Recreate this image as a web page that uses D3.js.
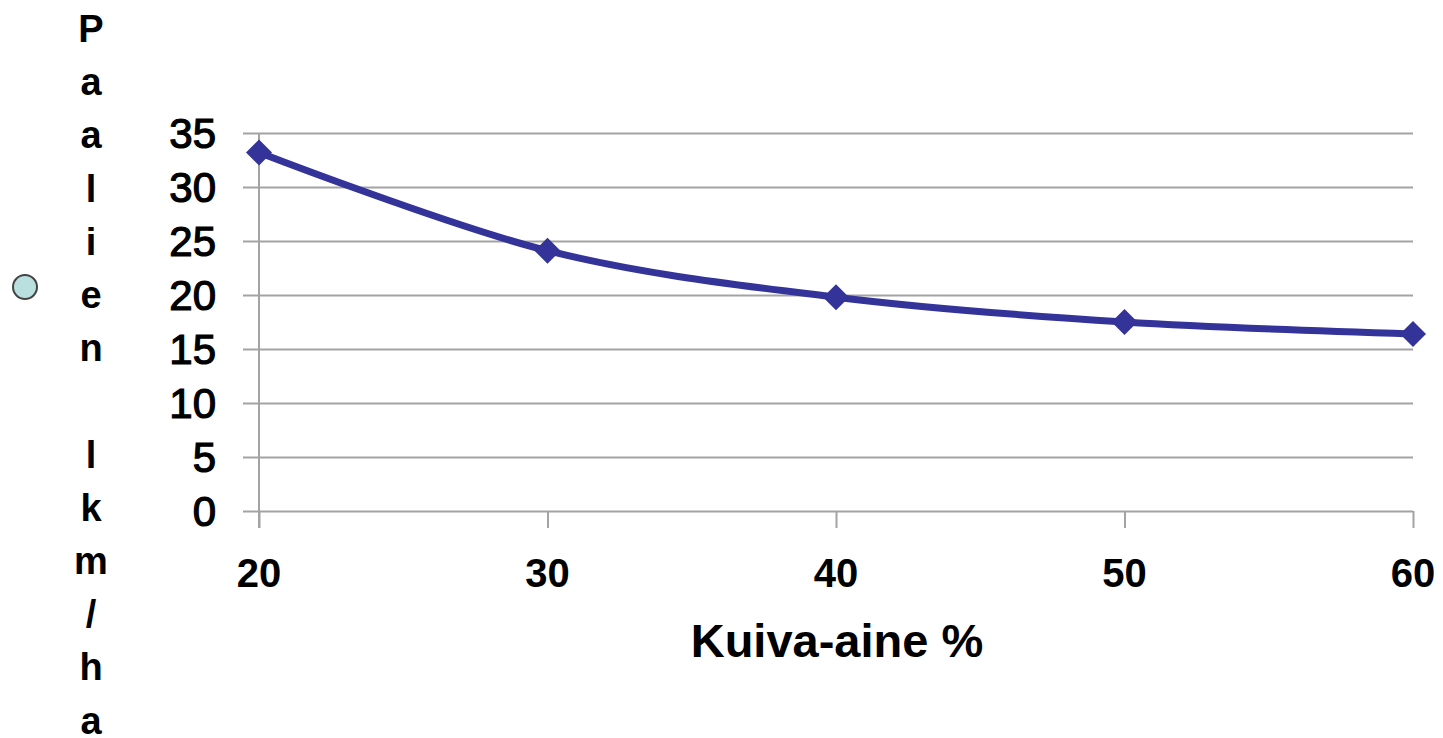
<!DOCTYPE html>
<html>
<head>
<meta charset="utf-8">
<script src="https://cdn.jsdelivr.net/npm/d3@7"></script>
<style>
  html, body { margin: 0; padding: 0; background: #fff; }
  svg { display: block; }
</style>
</head>
<body>
<svg id="chart" width="1443" height="738"></svg>
<script>
// Dry matter % on the x axis, bale count per hectare on the y axis
const categories = [20, 30, 40, 50, 60];
const bales = [33.2, 24.1, 19.8, 17.5, 16.4];
const yTicks = [0, 5, 10, 15, 20, 25, 30, 35];
const xTitle = "Kuiva-aine %";
const yTitle = "Paalien lkm/ha";

const svg = d3.select("#chart");
const plotLeft = 259, plotRight = 1413, plotTop = 133, plotBottom = 511;

const x = d3.scaleLinear().domain([20, 60]).range([plotLeft, plotRight]);
const y = d3.scaleLinear().domain([0, 35]).range([plotBottom, plotTop]);

const grid = "#a3a3a3";

// horizontal gridlines (with short ticks left of the axis)
const yAxis = d3.axisLeft(y).tickValues(yTicks).tickSize(-(plotRight - plotLeft) - 16).tickPadding(0).tickFormat("");
const gy = svg.append("g").attr("transform", `translate(${plotRight},0)`).call(yAxis);
gy.select(".domain").remove();
gy.selectAll(".tick line").attr("stroke", grid).attr("stroke-width", 2)
  .attr("x1", -(plotRight - plotLeft) - 16).attr("x2", 0);

// y tick labels
svg.append("g").selectAll("text").data(yTicks).join("text")
  .attr("x", 216).attr("y", d => y(d))
  .attr("dy", "0.36em")
  .attr("text-anchor", "end")
  .attr("font-family", "Liberation Sans, Arial, sans-serif")
  .attr("font-size", 42)
  .attr("stroke", "#000").attr("stroke-width", 1.2)
  .attr("fill", "#000")
  .text(d => d);

// x axis with downward ticks
const xAxis = d3.axisBottom(x).tickValues(categories).tickSize(17).tickFormat("");
const gx = svg.append("g").attr("transform", `translate(0,${plotBottom})`).call(xAxis);
gx.select(".domain").remove();
gx.selectAll(".tick line").attr("stroke", grid).attr("stroke-width", 2);

// vertical axis line
svg.append("line")
  .attr("x1", x(20)).attr("x2", x(20))
  .attr("y1", y(35)).attr("y2", plotBottom + 17)
  .attr("stroke", grid).attr("stroke-width", 2);

// x tick labels
svg.append("g").selectAll("text").data(categories).join("text")
  .attr("x", d => x(d)).attr("y", 587)
  .attr("text-anchor", "middle")
  .attr("font-family", "Liberation Sans, Arial, sans-serif")
  .attr("font-weight", "bold")
  .attr("font-size", 40)
  .attr("fill", "#000")
  .text(d => d);

// x axis title
svg.append("text")
  .attr("x", 837).attr("y", 657)
  .attr("text-anchor", "middle")
  .attr("font-family", "Liberation Sans, Arial, sans-serif")
  .attr("font-weight", "bold")
  .attr("font-size", 47)
  .attr("fill", "#000")
  .text(xTitle);

// y axis title, one letter per row
const letters = yTitle.split("");
svg.append("g").selectAll("text").data(letters).join("text")
  .attr("x", 91).attr("y", (d, i) => 42 + i * 53.2)
  .attr("text-anchor", "middle")
  .attr("font-family", "Liberation Sans, Arial, sans-serif")
  .attr("font-weight", "bold")
  .attr("font-size", 38)
  .attr("fill", "#000")
  .text(d => d);

// small marker at the left edge
svg.append("circle")
  .attr("cx", 25).attr("cy", 287).attr("r", 12)
  .attr("fill", "#b9dfdf").attr("stroke", "#444").attr("stroke-width", 2);

// smoothed series line
const pts = categories.map((c, i) => [x(c), y(bales[i])]);
svg.append("path")
  .attr("d", d3.line().curve(d3.curveCatmullRom.alpha(0))(pts))
  .attr("fill", "none")
  .attr("stroke", "#333399")
  .attr("stroke-width", 7)
  .attr("stroke-linejoin", "round");

// diamond markers
svg.append("g").selectAll("path").data(pts).join("path")
  .attr("transform", d => `translate(${d[0]},${d[1]})`)
  .attr("d", "M0,-13L13,0L0,13L-13,0Z")
  .attr("fill", "#333399");
</script>
</body>
</html>
